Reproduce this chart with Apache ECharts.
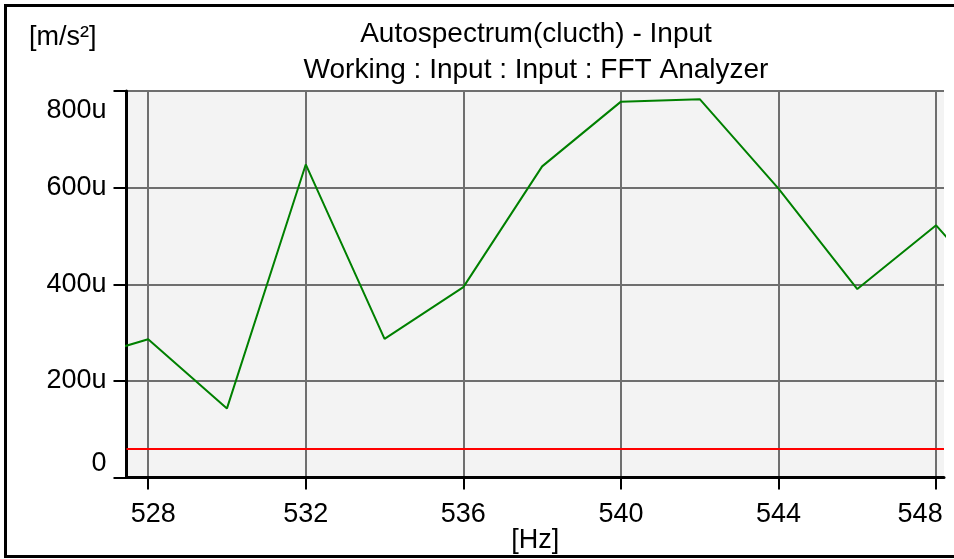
<!DOCTYPE html>
<html>
<head>
<meta charset="utf-8">
<script src="https://cdn.jsdelivr.net/npm/echarts@6/dist/echarts.min.js"></script>
<style>
  html, body { margin: 0; padding: 0; background: #fff; }
  #chart { width: 954px; height: 559px; }
</style>
</head>
<body>
<div id="chart"></div>
<script>
// spectrum bins (Hz) and amplitude in u (1e-6 m/s²)
const freqs = [526, 528, 530, 532, 534, 536, 538, 540, 542, 544, 546, 548, 550]
const amps = [238, 286, 143, 648, 287, 394, 644, 778, 783, 598, 390, 522, 339]
const threshold = 60
const xTicks = [528, 532, 536, 540, 544, 548]
const yTicks = [0, 200, 400, 600, 800]

const chart = echarts.init(document.getElementById('chart'))
const font = "'Liberation Sans', Arial, sans-serif"

chart.setOption({
  animation: false,
  textStyle: { fontFamily: font },
  title: {
    text: 'Autospectrum(clucth) - Input',
    subtext: 'Working : Input : Input : FFT Analyzer',
    left: 536,
    top: 20,
    padding: 0,
    textAlign: 'center',
    itemGap: 8,
    textStyle: { fontFamily: font, fontSize: 28, fontWeight: 'normal', color: '#000' },
    subtextStyle: { fontFamily: font, fontSize: 28, color: '#000' }
  },
  graphic: [{
    type: 'rect',
    shape: { x: 5.5, y: 5.5, width: 980, height: 551 },
    style: { fill: 'none', stroke: '#000', lineWidth: 3 },
    silent: true
  }],
  grid: {
    left: 126.5, right: 10, top: 91, bottom: 81.5,
    outerBoundsMode: 'none',
    show: true, backgroundColor: '#f3f3f3', borderWidth: 0
  },
  xAxis: {
    type: 'value',
    min: 527.45,
    max: 548.2,
    name: '[Hz]',
    nameLocation: 'middle',
    nameGap: 50,
    nameMoveOverlap: false,
    nameTextStyle: { fontFamily: font, fontSize: 27, color: '#000' },
    axisLine: { onZero: false, lineStyle: { color: '#000', width: 3 } },
    axisTick: { customValues: xTicks, length: 12, lineStyle: { color: '#000', width: 2 } },
    axisLabel: {
      customValues: xTicks,
      margin: 24,
      fontSize: 27,
      color: '#000',
      formatter: v => v === 528 ? '{l|528}' : v === 548 ? '{r|548}' : String(v),
      rich: {
        l: { fontSize: 27, fontFamily: font, color: '#000', padding: [0, 0, 0, 10] },
        r: { fontSize: 27, fontFamily: font, color: '#000', padding: [0, 32, 0, 0] }
      }
    },
    splitLine: { show: true, lineStyle: { color: '#6e6e6e', width: 2 } }
  },
  yAxis: {
    type: 'value',
    min: yTicks[0],
    max: yTicks[yTicks.length - 1],
    interval: 200,
    name: '[m/s²]',
    nameLocation: 'end',
    nameGap: 40,
    nameTextStyle: { fontFamily: font, fontSize: 27, color: '#000', align: 'right', padding: [0, 30, 0, 0] },
    axisLine: { show: true, lineStyle: { color: '#000', width: 3 } },
    axisTick: { show: true, length: 13, lineStyle: { color: '#000', width: 2 } },
    axisLabel: {
      margin: 20,
      fontSize: 27,
      color: '#000',
      formatter: v => v === 0 ? '{lo|0}' : v === 800 ? '{hi|800u}' : v + 'u',
      rich: {
        lo: { fontSize: 27, fontFamily: font, color: '#000', padding: [0, 0, 28, 0] },
        hi: { fontSize: 27, fontFamily: font, color: '#000', padding: [40, 0, 0, 0] }
      }
    },
    splitLine: { show: true, lineStyle: { color: '#6e6e6e', width: 2 } }
  },
  series: [{
    type: 'line',
    data: freqs.map((f, i) => [f, amps[i]]),
    showSymbol: false,
    clip: true,
    lineStyle: { color: '#008000', width: 2 },
    markLine: {
      silent: true,
      symbol: 'none',
      label: { show: false },
      lineStyle: { color: '#ff0000', width: 2, type: 'solid' },
      data: [{ yAxis: threshold }]
    }
  }]
})
</script>
</body>
</html>
